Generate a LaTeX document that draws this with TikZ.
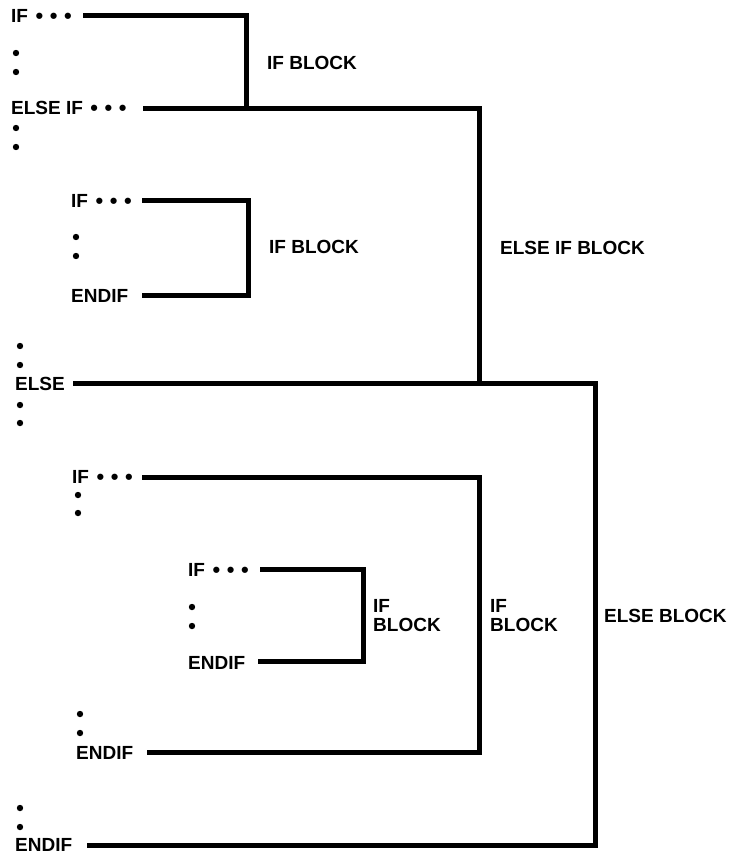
\documentclass[tikz,border=0pt]{standalone}
\usepackage{fontspec}
\setmainfont{Liberation Sans}
\newcommand\bigdot{\raisebox{-1.0pt}{\scalebox{1.15}{•}}}
\newcommand\mydots{\hspace{7.5pt}\bigdot\hspace{6.6pt}\bigdot\hspace{6.6pt}\bigdot}
\begin{document}
\begin{tikzpicture}[x=1pt,y=-1pt,
  lbl/.style={anchor=west,inner sep=0pt,font=\fontsize{19}{19}\selectfont\bfseries},
  bar/.style={line width=5pt,line join=miter},
  vdot/.style={circle,fill=black,inner sep=0pt,minimum size=6.4pt}]
\useasboundingbox (0,0) rectangle (731,855);

% statement texts
\node[lbl] (t1) at (11,16) {IF\mydots};
\node[lbl] (t2) at (11,108) {ELSE IF\mydots};
\node[lbl] (t3) at (71,201) {IF\mydots};
\node[lbl] (t4) at (71,296) {ENDIF};
\node[lbl] (t5) at (15,384) {ELSE};
\node[lbl] (t6) at (72,477) {IF\mydots};
\node[lbl] (t7) at (188,570) {IF\mydots};
\node[lbl] (t8) at (188,663) {ENDIF};
\node[lbl] (t9) at (76,753) {ENDIF};
\node[lbl] (t10) at (15,845) {ENDIF};

% block labels
\node[lbl] (b1) at (267,63) {IF BLOCK};
\node[lbl] (b2) at (269,247) {IF BLOCK};
\node[lbl] (b3) at (500,248) {ELSE IF BLOCK};
\node[lbl,align=left] (b4) at (373,616) {IF\\BLOCK};
\node[lbl,align=left] (b5) at (490,616) {IF\\BLOCK};
\node[lbl] (b6) at (604,616) {ELSE BLOCK};

% vertical dots
\foreach \n/\x/\y in {1/16/53,2/16/72,3/16/128,4/16/147,5/76/237,6/76/256,
  7/20/346,8/20/365,9/20/405,10/20/423,11/78/495,12/78/513,13/192/607,
  14/192/626,15/80/714,16/80/733,17/20/808,18/20/827}
  \node[vdot] (d\n) at (\x,\y) {};

% line ends and corners
\coordinate (s1) at (83,15);
\coordinate (j1) at (246,108);
\coordinate (s2) at (143,108);
\coordinate (j2) at (479,383);
\coordinate (s3) at (142,200);
\coordinate (c3) at (248,248);
\coordinate (s4) at (142,295);
\coordinate (s5) at (73,383);
\coordinate (c5) at (595,600);
\coordinate (s10) at (87,845);
\coordinate (s6) at (142,477);
\coordinate (c6) at (479,600);
\coordinate (s9) at (147,752);
\coordinate (s7) at (260,569);
\coordinate (c7) at (363,615);
\coordinate (s8) at (258,661);

\draw[bar] (s1) -| (j1);
\draw[bar] (s2) -| (j2);
\draw[bar] (s3) -| (c3) |- (s4);
\draw[bar] (s5) -| (c5) |- (s10);
\draw[bar] (s6) -| (c6) |- (s9);
\draw[bar] (s7) -| (c7) |- (s8);
\end{tikzpicture}
\end{document}
